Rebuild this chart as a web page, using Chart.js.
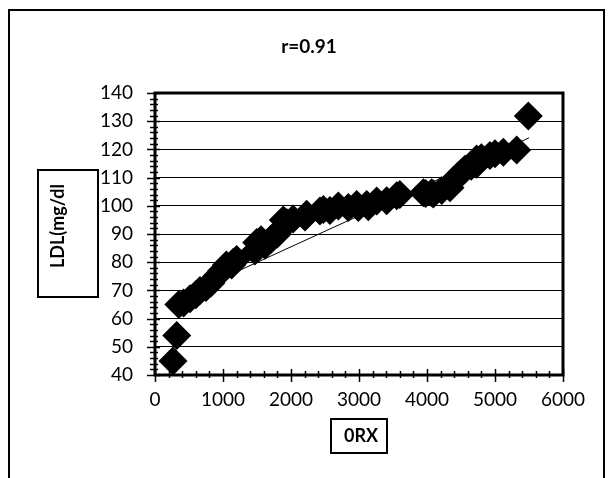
<!DOCTYPE html>
<html>
<head>
<meta charset="utf-8">
<script src="https://cdn.jsdelivr.net/npm/chart.js@4/dist/chart.umd.min.js"></script>
<style>
  body { margin: 0; background: #fff; }
  canvas { display: block; }
</style>
</head>
<body>
<canvas id="ldl-chart" width="609" height="478"></canvas>
<script>
// dane
const orx = [265, 320, 350, 420, 515, 600, 662, 750, 820, 907, 980, 1050, 1127, 1152, 1200,
  1470, 1495, 1560, 1618, 1700, 1740, 1800, 1887, 1941, 2030, 2206, 2230, 2426, 2476, 2573,
  2696, 2843, 2966, 2990, 3113, 3137, 3260, 3407, 3554, 3600, 3946, 3980, 4069, 4093, 4216,
  4338, 4387, 4450, 4500, 4559, 4650, 4730, 4730, 4800, 4926, 5000, 5122, 5319, 5490];
const ldl = [45, 54, 65, 65.5, 67, 68.5, 70, 71, 72.5, 75, 77, 79, 79, 80, 81,
  84, 87, 88, 86, 88, 89, 90, 95, 94, 95.3, 96, 97, 98.2, 98.7, 98.3,
  99.9, 99.4, 100.5, 99.4, 100.5, 99.7, 101.7, 101.8, 103.6, 104, 104.6, 104.4, 104.6, 104.2, 105.4,
  106.4, 108.9, 110.5, 111.5, 113, 114, 116.6, 114.7, 117, 117.8, 118.5, 119, 119.8, 131.8];
const trendX = [265, 5500];
const trendY = [66.3, 124.1];
const xTicks = [0, 1000, 2000, 3000, 4000, 5000, 6000];
const yTicks = [40, 50, 60, 70, 80, 90, 100, 110, 120, 130, 140];
const chartTitle = 'r=0.91';
const xTitle = '0RX';
const yTitle = 'LDL(mg/dl';

const FONT = 'Lato, "Liberation Sans", sans-serif';

// ramka, tytuły w ramkach, obramowanie obszaru wykresu i znaczniki osi
const decorations = {
  id: 'decorations',
  beforeDraw(chart) {
    const ctx = chart.ctx;
    ctx.save();
    ctx.fillStyle = '#fff';
    ctx.fillRect(0, 0, chart.width, chart.height);
    ctx.strokeStyle = '#000';
    ctx.lineWidth = 2;
    ctx.strokeRect(9, 10, 595, 520);
    ctx.restore();
  },
  afterDatasetsDraw(chart) {
    const ctx = chart.ctx;
    const { left, right, top, bottom } = chart.chartArea;
    const x = chart.scales.x;
    const y = chart.scales.y;
    ctx.save();
    ctx.strokeStyle = '#000';

    // znaczniki osi X
    ctx.lineWidth = 1.5;
    for (let v = x.min; v <= x.max; v += 200) {
      const px = Math.round(x.getPixelForValue(v)) + 0.5;
      const major = v % 1000 === 0;
      ctx.beginPath();
      ctx.moveTo(px, bottom - (major ? 6 : 4));
      ctx.lineTo(px, bottom + (major ? 7 : 3));
      ctx.stroke();
    }
    // znaczniki osi Y
    for (let v = y.min; v <= y.max; v += 2) {
      const py = Math.round(y.getPixelForValue(v)) + 0.5;
      const major = v % 10 === 0;
      ctx.beginPath();
      ctx.moveTo(left - (major ? 8 : 5), py);
      ctx.lineTo(left + (major ? 5 : 3), py);
      ctx.stroke();
    }

    ctx.lineWidth = 3;
    ctx.strokeRect(left, top, right - left, bottom - top);

    // tytuł wykresu
    ctx.fillStyle = '#000';
    ctx.font = 'bold 19px ' + FONT;
    ctx.textAlign = 'center';
    ctx.textBaseline = 'middle';
    ctx.fillText(chartTitle, 309, 47);

    // tytuł osi X w ramce
    ctx.font = 'bold 18px ' + FONT;
    ctx.lineWidth = 2;
    ctx.strokeRect(331, 419, 56, 34);
    ctx.fillText(xTitle, 361, 436);

    // tytuł osi Y w ramce
    ctx.strokeRect(38, 170, 60, 127);
    ctx.translate(58, 226);
    ctx.rotate(-Math.PI / 2);
    ctx.fillText(yTitle, 0, 0);
    ctx.restore();
  }
};

const ctx = document.getElementById('ldl-chart').getContext('2d');
const chart = new Chart(ctx, {
  type: 'scatter',
  data: {
    datasets: [{
      label: 'LDL',
      data: orx.map((v, i) => ({ x: v, y: ldl[i] })),
      pointStyle: 'rectRot',
      radius: 14.5,
      backgroundColor: '#000',
      borderColor: '#000',
      borderWidth: 0,
      clip: false,
      order: 1
    }, {
      label: 'Trend',
      type: 'line',
      data: trendX.map((v, i) => ({ x: v, y: trendY[i] })),
      borderColor: '#000',
      borderWidth: 1,
      pointRadius: 0,
      fill: false,
      order: 0
    }]
  },
  options: {
    responsive: false,
    animation: false,
    layout: { padding: { top: 93, right: 46, left: 0, bottom: 0 } },
    plugins: {
      legend: { display: false },
      tooltip: { enabled: false }
    },
    scales: {
      x: {
        type: 'linear',
        min: 0,
        max: 6000,
        afterFit: (scale) => { scale.height = 103; },
        afterBuildTicks: (scale) => { scale.ticks = xTicks.map(v => ({ value: v })); },
        ticks: {
          color: '#000', font: { family: FONT, size: 19 }, padding: 13, maxRotation: 0,
          callback: (v) => String(v)
        },
        grid: { display: false, drawTicks: false },
        border: { display: false }
      },
      y: {
        min: 40,
        max: 140,
        afterFit: (scale) => { scale.width = 155; },
        afterBuildTicks: (scale) => { scale.ticks = yTicks.map(v => ({ value: v })); },
        ticks: {
          color: '#000', font: { family: FONT, size: 19 }, padding: 22,
          callback: (v) => String(v)
        },
        grid: { color: '#000', lineWidth: 1, drawTicks: false },
        border: { display: false }
      }
    }
  },
  plugins: [decorations]
});
</script>
</body>
</html>
